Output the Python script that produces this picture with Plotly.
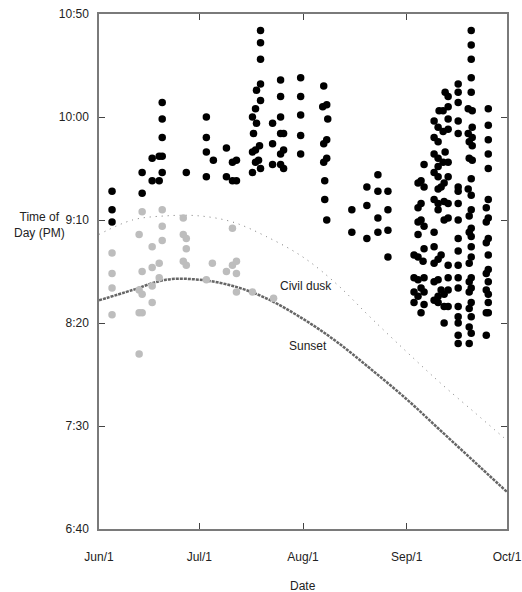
import plotly.graph_objects as go

# x values: days since Jun 1; y values: minutes after 12:00 noon (PM time of day)
month_ticks = [0, 30, 61, 92, 122]
month_labels = ["Jun/1", "Jul/1", "Aug/1", "Sep/1", "Oct/1"]
time_ticks = [400, 450, 500, 550, 600, 650]
time_labels = ["6:40", "7:30", "8:20", "9:10", "10:00", "10:50"]

# Sunset and civil dusk (sampled from the curves)
curve_days = [0, 10, 20, 30, 40, 50, 61, 71, 81, 92, 102, 112, 122]
sunset_min = [511, 516, 521, 521, 518, 512, 502, 491, 478, 463, 448, 433, 418]
dusk_min = [543, 550, 552, 552, 549, 542, 532, 519, 503, 486, 471, 457, 443]

# Gray observations (before dusk)
gray_day = [3.9, 3.9, 3.9, 3.9, 12.0, 12.0, 12.0, 12.0, 12.9, 12.9, 12.9, 12.9,
            15.9, 15.9, 15.9, 15.9, 18.0, 18.0, 18.9, 18.9, 18.9,
            25.2, 25.2, 25.2, 26.1, 26.1, 26.1, 32.1, 33.9, 38.1,
            39.9, 39.9, 41.1, 41.1, 41.1, 45.9, 52.2]
gray_min = [534, 524, 517, 504, 543, 516, 505, 485, 554, 525, 514, 505,
            537, 527, 518, 510, 529, 522, 555, 547, 540,
            551, 543, 530, 541, 536, 528, 521, 529, 525,
            546, 528, 530, 524, 515, 515, 512]

# Black observations (after dusk)
black_day = [
    3.9, 3.9, 3.9, 12.9, 12.9, 15.9, 15.9, 18.0, 18.0,
    18.9, 18.9, 18.9, 18.9, 18.9, 26.1, 32.1, 32.1, 32.1, 32.1, 34.2,
    38.1, 38.1, 39.9, 39.9, 41.1, 41.1,
    48.3, 48.3, 48.3, 48.3, 47.1, 48.3, 46.8, 45.9, 47.1, 46.2, 48.0, 46.8, 45.9,
    47.7, 46.8, 48.3, 45.9,
    51.9, 51.9, 51.9, 54.3, 54.3, 54.3, 54.3, 55.2, 55.2, 54.3, 54.3, 55.2,
    60.3, 60.3, 60.3, 60.3, 60.3,
    67.2, 68.1, 66.9, 68.4, 68.1, 67.2, 68.1, 67.2, 67.5, 67.5, 68.1,
    75.6, 75.6, 80.1, 80.1, 80.1, 83.4, 83.4, 83.4, 83.4, 86.4, 86.4, 86.4, 86.4,
    111.3, 111.3, 111.3, 111.3, 111.3, 110.4, 111.6, 111.6, 110.4, 111.6, 110.7, 111.6,
    110.7, 111.6,
    107.4, 107.4, 107.4, 107.4, 107.4,
    116.4, 116.4, 116.4, 116.4, 116.4,
    103.5, 104.4, 104.4, 101.7, 102.9, 104.4, 100.2, 101.4, 102.9, 104.4, 100.2, 101.4,
    103.5, 100.2, 101.4, 102.9, 104.4, 101.4, 97.2,
    96.3, 95.4, 97.2, 100.2, 101.4, 104.4, 103.2, 102.3, 101.4, 107.4, 107.4,
    111.3, 110.4, 111.3, 116.4, 115.8,
    96.3, 95.4, 100.2, 101.4, 103.2, 104.4, 101.4, 107.4, 111.3, 110.7, 107.4, 104.4,
    103.2, 116.4, 115.8, 96.3, 95.4, 97.2, 100.2, 95.4, 107.4, 111.3, 110.7, 111.3,
    116.4, 115.8, 107.4, 111.3, 116.4, 100.2, 97.2, 94.2, 95.4, 96.9, 102.3, 101.4,
    100.2, 104.4, 107.4, 111.3, 110.7, 116.4, 115.8,
    94.2, 95.4, 97.2, 101.4, 100.2, 104.4, 107.4, 111.3, 110.7, 116.4,
    96.3, 97.2, 94.2, 95.4, 94.2, 97.2, 102.3, 103.2, 101.4, 100.2, 104.4, 107.4,
    111.3, 110.7, 115.8, 116.4, 116.4, 101.4, 103.2, 104.4, 107.4, 111.3, 110.7,
    115.8, 116.4, 96.3, 107.4, 111.3, 103.2, 107.4, 110.7, 111.3, 107.4, 115.8,
    107.4, 110.7,
]
black_min = [
    564, 555, 549, 573, 563, 580, 569, 581, 569,
    607, 599, 590, 581, 573, 573, 600, 590, 583, 571, 579,
    585, 571, 578, 569, 579, 569,
    642, 636, 628, 616, 613, 608, 604, 600, 597, 592, 586, 584, 583,
    579, 578, 575, 573,
    597, 587, 577, 618, 610, 600, 592, 592, 584, 582, 577, 575,
    619, 610, 601, 591, 582,
    615, 606, 605, 599, 589, 587, 580, 578, 569, 560, 550,
    555, 544, 566, 557, 541, 572, 564, 551, 544, 564, 555, 545, 532,
    642, 635, 628, 619, 612, 604, 603, 595, 592, 590, 588, 586,
    580, 579,
    616, 612, 607, 598, 592,
    604, 596, 589, 582, 575,
    612, 610, 605, 603, 603, 599, 598, 595, 593, 594, 590, 588,
    583, 582, 580, 578, 578, 576, 577,
    569, 568, 566, 573, 571, 571, 568, 566, 565, 566, 564,
    570, 565, 562, 560, 556,
    558, 556, 560, 558, 559, 558, 555, 558, 555, 552, 550, 551,
    550, 551, 549, 550, 549, 547, 544, 543, 541, 546, 544, 542,
    541, 539, 535, 537, 533, 537, 536, 533, 532, 530, 533, 531,
    529, 528, 528, 532, 529, 526, 524,
    522, 521, 522, 521, 520, 522, 522, 522, 520, 520,
    517, 515, 515, 513, 510, 509, 516, 514, 513, 511, 516, 517,
    517, 515, 516, 514, 510, 510, 508, 508, 508, 510, 507,
    505, 505, 505, 503, 503, 500, 500, 498, 495, 494, 494,
    490, 490,
]

fig = go.Figure()

fig.add_trace(go.Scatter(
    x=curve_days, y=dusk_min, mode="lines", line_shape="spline",
    line=dict(color="#7a7a7a", width=1, dash="1px,5px"), hoverinfo="skip"))
fig.add_trace(go.Scatter(
    x=curve_days, y=sunset_min, mode="lines", line_shape="spline",
    line=dict(color="#666666", width=2.5, dash="3px,1px"), hoverinfo="skip"))
fig.add_trace(go.Scatter(
    x=gray_day, y=gray_min, mode="markers",
    marker=dict(color="#bdbdbd", size=7.5, line=dict(width=0))))
fig.add_trace(go.Scatter(
    x=black_day, y=black_min, mode="markers",
    marker=dict(color="#000000", size=7.5, line=dict(width=0))))

font = dict(family="Liberation Sans, Arial, sans-serif", size=12, color="#222222")

W, H = 522, 592
ML, MR, MT, MB = 99, 15, 14, 63
PW, PH = W - ML - MR, H - MT - MB

fig.add_annotation(x=61.8, y=518, text="Civil dusk", showarrow=False,
                   font=font, xref="x", yref="y")
fig.add_annotation(x=62.4, y=489, text="Sunset", showarrow=False,
                   font=font, xref="x", yref="y")
fig.add_annotation(x=(40 - ML) / PW, y=1 - (225 - MT) / PH, xref="paper", yref="paper",
                   text="Time of<br>Day (PM)", showarrow=False, font=font,
                   xanchor="center", yanchor="middle")
fig.add_annotation(x=0.5, y=1 - (586 - MT) / PH, xref="paper", yref="paper",
                   text="Date", showarrow=False, font=font,
                   xanchor="center", yanchor="middle")

fig.update_layout(
    width=W, height=H,
    margin=dict(l=ML, r=MR, t=MT, b=MB, autoexpand=False),
    paper_bgcolor="white", plot_bgcolor="white",
    showlegend=False, font=font,
)

fig.update_xaxes(
    range=[0, 122], tickvals=month_ticks, ticktext=month_labels, automargin=False,
    showgrid=False, zeroline=False, showline=True, linecolor="#7a7a7a", linewidth=1.5,
    mirror="ticks", ticks="inside", ticklen=6, tickcolor="#444444", tickwidth=1,
    ticklabelstandoff=16,
)
fig.update_yaxes(
    range=[400, 650], tickvals=time_ticks, ticktext=time_labels, automargin=False,
    showgrid=False, zeroline=False, showline=True, linecolor="#7a7a7a", linewidth=1.5,
    mirror="ticks", ticks="inside", ticklen=6, tickcolor="#444444", tickwidth=1,
    ticklabelstandoff=6,
)

fig.write_html("out.html")
